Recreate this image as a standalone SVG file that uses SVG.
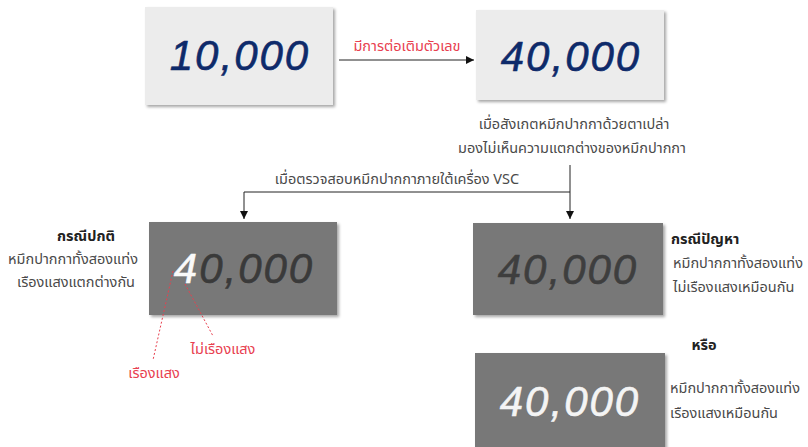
<svg xmlns="http://www.w3.org/2000/svg" width="808" height="447" viewBox="0 0 808 447">
<style>
.th{font-family:"Noto Sans Thai","Noto Sans","DejaVu Sans",sans-serif;font-size:14.5px;fill:#4a4a4a}
.thb{font-family:"Noto Sans Thai","Noto Sans","DejaVu Sans",sans-serif;font-size:14.5px;font-weight:bold;fill:#222}
.red{font-family:"Noto Sans Thai","Noto Sans","DejaVu Sans",sans-serif;font-size:14.5px;fill:#e8404f}
.num{font-family:"Liberation Sans",sans-serif;font-style:italic;font-size:42px;letter-spacing:2px;stroke-width:0.6px;stroke-linejoin:round}
.light{fill:#ececec}
.dark{fill:#787878}
.line{stroke:#222;stroke-width:1;fill:none}
</style>
<defs>
<filter id="sh" x="-10%" y="-10%" width="125%" height="130%">
<feDropShadow dx="2" dy="2" stdDeviation="1.5" flood-color="#000" flood-opacity="0.35"/>
</filter>
<marker id="ah" viewBox="0 0 10 10" refX="10" refY="5" markerWidth="8" markerHeight="8" orient="auto" markerUnits="userSpaceOnUse">
<path d="M0,0 L10,5 L0,10 z" fill="#111"/>
</marker>
</defs>
<rect width="808" height="447" fill="#fff"/>
<g id="connectors">
<line class="line" x1="339" y1="60" x2="474" y2="60" marker-end="url(#ah)"/>
<text class="red" x="407" y="51" text-anchor="middle">มีการต่อเติมตัวเลข</text>
<polyline class="line" points="570,165 570,192 244,192 244,219" marker-end="url(#ah)"/>
<line class="line" x1="570" y1="192" x2="570" y2="219" marker-end="url(#ah)"/>
<text class="th" x="397" y="184" text-anchor="middle">เมื่อตรวจสอบหมึกปากกาภายใต้เครื่อง VSC</text>
</g>
<g id="node-10000">
<rect class="light" x="145" y="7" width="188" height="98" filter="url(#sh)"/>
<text class="num" x="240" y="70" text-anchor="middle" fill="#0e2a6a" stroke="#0e2a6a">10,000</text>
</g>
<g id="node-40000">
<rect class="light" x="476" y="10" width="188" height="90" filter="url(#sh)"/>
<text class="num" x="571" y="71" text-anchor="middle" fill="#0e2a6a" stroke="#0e2a6a">40,000</text>
<text class="th" x="574" y="129" text-anchor="middle">เมื่อสังเกตหมึกปากกาด้วยตาเปล่า</text>
<text class="th" x="572" y="153" text-anchor="middle">มองไม่เห็นความแตกต่างของหมึกปากกา</text>
</g>
<g id="node-normal">
<rect class="dark" x="149" y="222" width="188" height="93" filter="url(#sh)"/>
<text class="num" x="244" y="283" text-anchor="middle" fill="#3a3a3a" stroke="#3a3a3a"><tspan fill="#fafafa" stroke="#fafafa">4</tspan>0,000</text>
<text class="thb" x="86" y="241" text-anchor="middle">กรณีปกติ</text>
<text class="th" x="73" y="264" text-anchor="middle">หมึกปากกาทั้งสองแท่ง</text>
<text class="th" x="76" y="287" text-anchor="middle">เรืองแสงแตกต่างกัน</text>
<line x1="173" y1="271" x2="153" y2="360" stroke="#e8404f" stroke-width="1" stroke-dasharray="2,2"/>
<line x1="185" y1="284" x2="213" y2="336" stroke="#e8404f" stroke-width="1" stroke-dasharray="2,2"/>
<text class="red" x="223" y="354" text-anchor="middle">ไม่เรืองแสง</text>
<text class="red" x="154" y="378" text-anchor="middle">เรืองแสง</text>
</g>
<g id="node-problem">
<rect class="dark" x="473" y="223" width="190" height="92" filter="url(#sh)"/>
<text class="num" x="568" y="284" text-anchor="middle" fill="#3e3e3e" stroke="#3e3e3e">40,000</text>
<text class="thb" x="671" y="244">กรณีปัญหา</text>
<text class="th" x="673" y="268">หมึกปากกาทั้งสองแท่ง</text>
<text class="th" x="673" y="292">ไม่เรืองแสงเหมือนกัน</text>
</g>
<g id="node-or">
<rect class="dark" x="475" y="353" width="190" height="100" filter="url(#sh)"/>
<text class="num" x="570" y="416" text-anchor="middle" fill="#f4f4f4" stroke="#f4f4f4">40,000</text>
<text class="thb" x="704" y="350" text-anchor="middle">หรือ</text>
<text class="th" x="670" y="393">หมึกปากกาทั้งสองแท่ง</text>
<text class="th" x="670" y="418">เรืองแสงเหมือนกัน</text>
</g>
</svg>
